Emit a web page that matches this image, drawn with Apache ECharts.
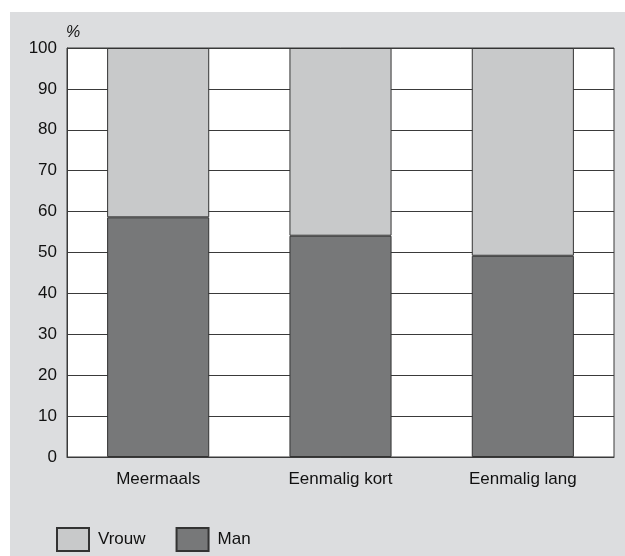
<!DOCTYPE html>
<html>
<head>
<meta charset="utf-8">
<script src="https://cdn.jsdelivr.net/npm/echarts@6/dist/echarts.min.js"></script>
<style>
html,body{margin:0;padding:0;background:#fff;}
#panel{position:absolute;left:10px;top:12px;width:615px;height:544px;background:#dcdddf;}
#chart{width:615px;height:544px;}
</style>
</head>
<body>
<div id="panel"><div id="chart"></div></div>
<script>
var categories = ['Meermaals', 'Eenmalig kort', 'Eenmalig lang'];
var manValues = [58.6, 54.1, 49.2];
var vrouwValues = [41.4, 45.9, 50.8];
var yTicks = [0, 10, 20, 30, 40, 50, 60, 70, 80, 90, 100];

var chart = echarts.init(document.getElementById('chart'), null, {renderer: 'canvas'});
var font = 'Liberation Sans, Arial, sans-serif';
chart.setOption({
  animation: false,
  backgroundColor: 'transparent',
  textStyle: {fontFamily: font},
  grid: {left: 57, right: 11, top: 36, bottom: 99, show: true, backgroundColor: '#ffffff', borderColor: '#3a3a3a', borderWidth: 1},
  graphic: [{type: 'text', left: 56, top: 13, style: {text: '%', font: 'italic 16px ' + font, fill: '#111'}}],
  legend: {
    data: ['Vrouw', 'Man'],
    left: 46, top: 515, padding: 0,
    itemWidth: 32, itemHeight: 23, itemGap: 30,
    icon: 'rect',
    textStyle: {fontSize: 17, color: '#111', fontFamily: font, padding: [6, 0, 0, 4]}
  },
  xAxis: {
    type: 'category', data: categories,
    axisLine: {lineStyle: {color: '#3a3a3a', width: 1}},
    axisTick: {show: false},
    axisLabel: {fontSize: 17, color: '#111', margin: 14, fontFamily: font}
  },
  yAxis: {
    type: 'value', min: 0, max: 100, interval: 10,
    axisLine: {show: true, lineStyle: {color: '#3a3a3a', width: 1}},
    axisTick: {show: false},
    axisLabel: {fontSize: 17, color: '#111', margin: 10, fontFamily: font,
      formatter: function (v) { return yTicks.indexOf(v) >= 0 ? String(v) : ''; }},
    splitLine: {show: true, lineStyle: {color: '#3a3a3a', width: 1}}
  },
  series: [
    {name: 'Man', type: 'bar', stack: 't', data: manValues, barWidth: '56%',
      itemStyle: {color: '#777879', borderColor: '#333', borderWidth: 1}},
    {name: 'Vrouw', type: 'bar', stack: 't', data: vrouwValues, barWidth: '56%',
      itemStyle: {color: '#c8c9ca', borderColor: '#333', borderWidth: 1}}
  ]
});
</script>
</body>
</html>
